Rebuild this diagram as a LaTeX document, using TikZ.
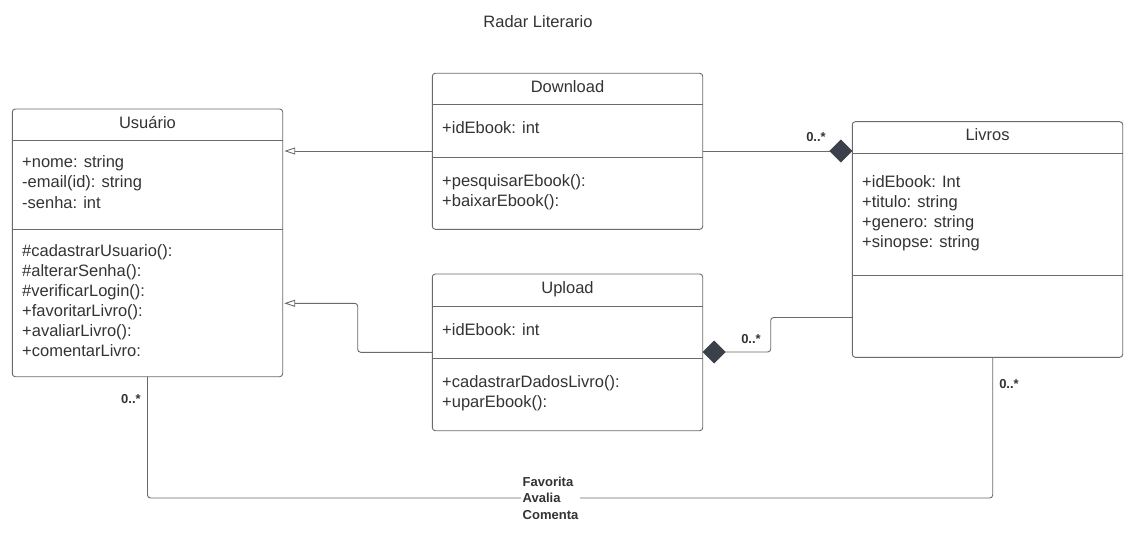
\documentclass[tikz,border=0pt]{standalone}
\usepackage{fontspec}
\setmainfont{Liberation Sans}
\usetikzlibrary{arrows.meta}
\definecolor{linegray}{HTML}{6A6A6A}
\definecolor{txtgray}{HTML}{333333}
\definecolor{diagray}{HTML}{3A414A}
\newcommand\rlmain{\fontsize{16.5}{20}\selectfont}
\newcommand\rllab{\fontsize{13}{16.5}\selectfont\bfseries}
\begin{document}
\begin{tikzpicture}[x=1pt,y=-1pt,
  classbox/.style={draw=linegray, line width=0.9pt, rounded corners=3pt, inner sep=0pt, outer sep=0pt, minimum width=270.4pt},
  divider/.style={draw=linegray, line width=0.9pt},
  head/.style={font=\rlmain, text=txtgray, anchor=base, inner sep=0pt},
  attr/.style={font=\rlmain, text=txtgray, anchor=base west, inner sep=0pt},
  conn/.style={draw=linegray, line width=0.9pt, rounded corners=3pt},
  inh/.style={conn, -{Triangle[open,length=11pt,width=7pt,line width=0.9pt]}, shorten >=1.5pt},
  mult/.style={font=\rllab, text=txtgray, inner sep=0pt},
  assoc/.style={font=\rllab, text=txtgray, fill=white, inner sep=1.5pt, align=left, anchor=west}
]
\useasboundingbox (0,0) rectangle (1137,540);

% title
\node[head] (title) at (538,27.5) {Radar Literario};

% Usuario
\node[classbox, minimum height=267.7pt] (usr) at (147.5,242.85) {};
\draw[divider] (usr.west |- 0,140.7) -- (usr.east |- 0,140.7);
\draw[divider] (usr.west |- 0,229.3) -- (usr.east |- 0,229.3);
\node[head] (usrh) at (147.5,128.3) {Usuário};
\node[attr] (ua1) at (22,168) {+nome: string};
\node[attr] (ua2) at (22,188) {-email(id): string};
\node[attr] (ua3) at (22,208) {-senha: int};
\node[attr] (um1) at (22,256) {\#cadastrarUsuario():};
\node[attr] (um2) at (22,276) {\#alterarSenha():};
\node[attr] (um3) at (22,296) {\#verificarLogin():};
\node[attr] (um4) at (22,316) {+favoritarLivro():};
\node[attr] (um5) at (22,336) {+avaliarLivro():};
\node[attr] (um6) at (22,356) {+comentarLivro:};

% Download
\node[classbox, minimum height=156pt] (dl) at (567.5,151.3) {};
\draw[divider] (dl.west |- 0,104.3) -- (dl.east |- 0,104.3);
\draw[divider] (dl.west |- 0,157.7) -- (dl.east |- 0,157.7);
\node[head] (dlh) at (567.5,92.3) {Download};
\node[attr] (da1) at (442,134) {+idEbook: int};
\node[attr] (dm1) at (442,186) {+pesquisarEbook():};
\node[attr] (dm2) at (442,206) {+baixarEbook():};

% Upload
\node[classbox, minimum height=156.7pt] (up) at (567.5,352.35) {};
\draw[divider] (up.west |- 0,306.7) -- (up.east |- 0,306.7);
\draw[divider] (up.west |- 0,358.3) -- (up.east |- 0,358.3);
\node[head] (uph) at (567.5,293.3) {Upload};
\node[attr] (pa1) at (442,335) {+idEbook: int};
\node[attr] (pm1) at (442,387.3) {+cadastrarDadosLivro():};
\node[attr] (pm2) at (442,407) {+uparEbook():};

% Livros
\node[classbox, minimum height=235.6pt] (lv) at (987.5,239.5) {};
\draw[divider] (lv.west |- 0,153.3) -- (lv.east |- 0,153.3);
\draw[divider] (lv.west |- 0,275) -- (lv.east |- 0,275);
\node[head] (lvh) at (987.5,140.7) {Livros};
\node[attr] (la1) at (862,187.3) {+idEbook: Int};
\node[attr] (la2) at (862,207.3) {+titulo: string};
\node[attr] (la3) at (862,227.3) {+genero: string};
\node[attr] (la4) at (862,247.3) {+sinopse: string};

% inheritance connectors
\draw[inh] (dl.west |- 0,151) -- (usr.east |- 0,151);
\draw[inh] (up.west |- 0,352.3) -- (357.7,352.3) -- (357.7,303.3) -- (usr.east |- 0,303.3);

% composition connectors
\draw[conn, -{Diamond[length=23pt,width=23pt,color=diagray]}] (dl.east |- 0,151) -- (lv.west |- 0,151);
\node[mult] (m1) at (816,137.5) {0..*};
\draw[conn, {Diamond[length=23pt,width=23pt,color=diagray]}-] (up.east |- 0,352) -- (770.7,352) -- (770.7,317.5) -- (lv.west |- 0,317.5);
\node[mult] (m2) at (751,339.5) {0..*};

% association Usuario - Livros
\draw[conn] (usr.south -| 147.5,0) -- (147.5,498) -- (992.7,498) -- (lv.south -| 992.7,0);
\node[assoc] (asl) at (521,498) {Favorita\\Avalia\\Comenta};
\node[mult] (m3) at (131,399.5) {0..*};
\node[mult] (m4) at (1009,384.5) {0..*};
\end{tikzpicture}
\end{document}
